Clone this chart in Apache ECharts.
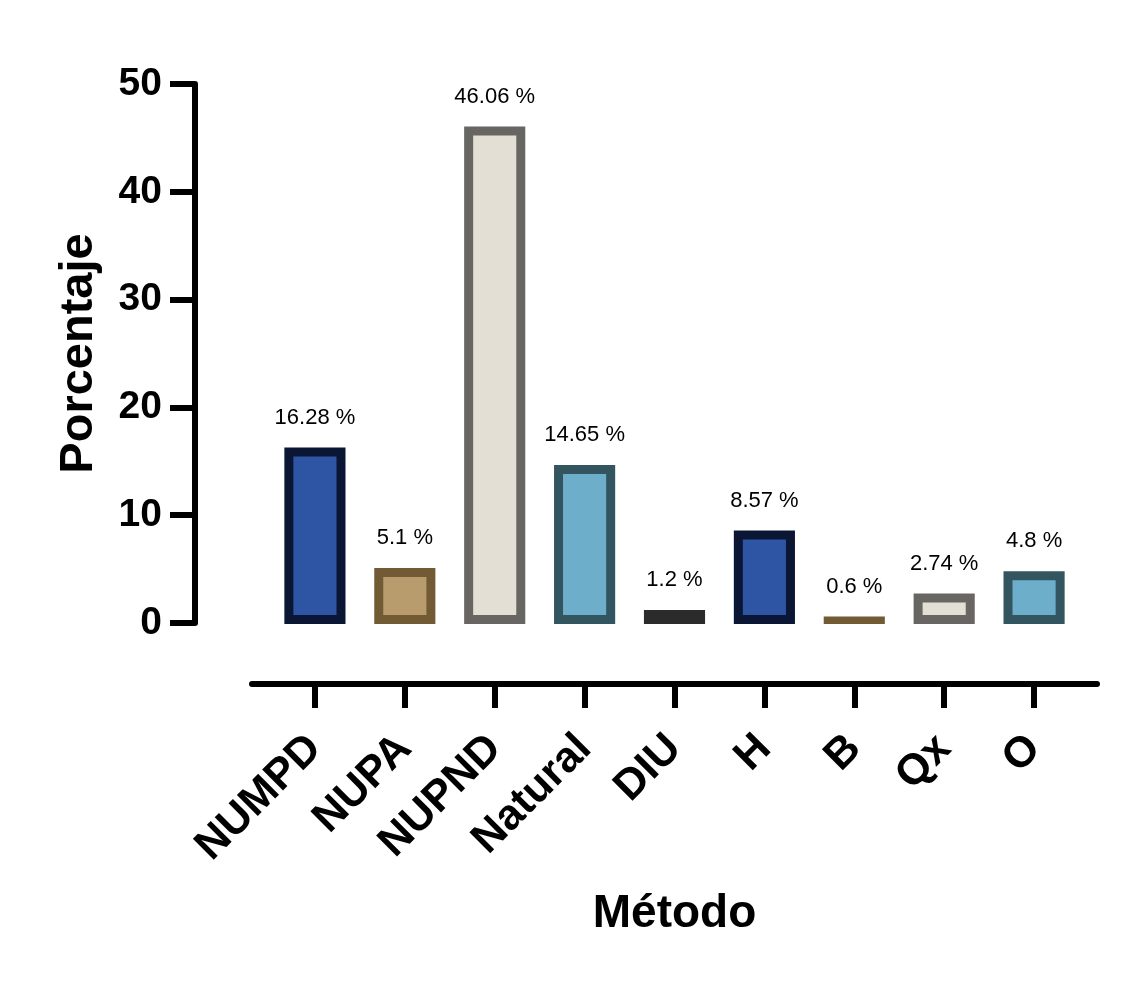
<!DOCTYPE html>
<html>
<head>
<meta charset="utf-8">
<script src="https://cdn.jsdelivr.net/npm/echarts@6/dist/echarts.min.js"></script>
<style>
  html, body { margin: 0; padding: 0; background: #fff; }
  #chart { width: 1125px; height: 987px; }
</style>
</head>
<body>
<div id="chart"></div>
<script>
const categories = ['NUMPD', 'NUPA', 'NUPND', 'Natural', 'DIU', 'H', 'B', 'Qx', 'O'];
const values = [16.28, 5.1, 46.06, 14.65, 1.2, 8.57, 0.6, 2.74, 4.8];
const fillColors = ['#2E55A3', '#B89C6E', '#E3DFD4', '#6DAECB', '#2B2B2B', '#2E55A3', '#B89C6E', '#E3DFD4', '#6DAECB'];
const borderColors = ['#0A1633', '#725B34', '#686662', '#33555F', '#2B2B2B', '#0A1633', '#725B34', '#686662', '#33555F'];
const yTicks = [0, 10, 20, 30, 40, 50];

const FONT = "'Liberation Sans', Arial, sans-serif";
const chart = echarts.init(document.getElementById('chart'));

const option = {
  backgroundColor: '#ffffff',
  animation: false,
  grid: { left: 252, right: 28, top: 84, bottom: 364 },
  xAxis: {
    type: 'value',
    min: -0.7,
    max: 8.7,
    offset: 61,
    name: 'Método',
    nameLocation: 'middle',
    nameGap: 207,
    nameTextStyle: { fontFamily: FONT, fontWeight: 'bold', fontSize: 46, color: '#000' },
    splitLine: { show: false },
    axisLine: { show: true, onZero: false, lineStyle: { color: '#000', width: 6 } },
    axisTick: { show: true, length: 24, lineStyle: { color: '#000', width: 6 },
      customValues: categories.map((c, i) => i) },
    axisLabel: {
      customValues: categories.map((c, i) => i),
      rotate: 45,
      margin: 58,
      fontFamily: FONT, fontWeight: 'bold', fontSize: 43, color: '#000',
      formatter: v => categories[Math.round(v)]
    }
  },
  yAxis: {
    type: 'value',
    min: yTicks[0],
    max: yTicks[yTicks.length - 1],
    interval: 10,
    offset: 57,
    name: 'Porcentaje',
    nameLocation: 'middle',
    nameGap: 92,
    nameTextStyle: { fontFamily: FONT, fontWeight: 'bold', fontSize: 47, color: '#000' },
    splitLine: { show: false },
    axisLine: { show: true, onZero: false, lineStyle: { color: '#000', width: 6 } },
    axisTick: { show: true, length: 25, lineStyle: { color: '#000', width: 6 } },
    axisLabel: { margin: 33, fontFamily: FONT, fontWeight: 'bold', fontSize: 39, color: '#000' }
  },
  series: [{
    type: 'custom',
    data: values.map((v, i) => [i, v]),
    renderItem: function (params, api) {
      const i = api.value(0), v = api.value(1);
      const top = api.coord([i, v]);
      const base = api.coord([i, 0]);
      const bw = api.size([1, 0])[0] * 0.68;
      const b = 9;
      const x0 = top[0] - bw / 2;
      const y0 = top[1];
      const h = base[1] + 1 - y0;
      const idx = params.dataIndex;
      const children = [{
        type: 'rect',
        shape: { x: x0, y: y0, width: bw, height: h },
        style: { fill: borderColors[idx] }
      }];
      if (h > 2 * b) {
        children.push({
          type: 'rect',
          shape: { x: x0 + b, y: y0 + b, width: bw - 2 * b, height: h - 2 * b },
          style: { fill: fillColors[idx] }
        });
      }
      children.push({
        type: 'text',
        x: top[0],
        y: y0 - 30,
        style: {
          text: values[idx] + ' %',
          fill: '#000',
          font: '22px ' + FONT,
          textAlign: 'center',
          textVerticalAlign: 'middle'
        }
      });
      return { type: 'group', children: children };
    }
  }]
};
chart.setOption(option);
</script>
</body>
</html>
